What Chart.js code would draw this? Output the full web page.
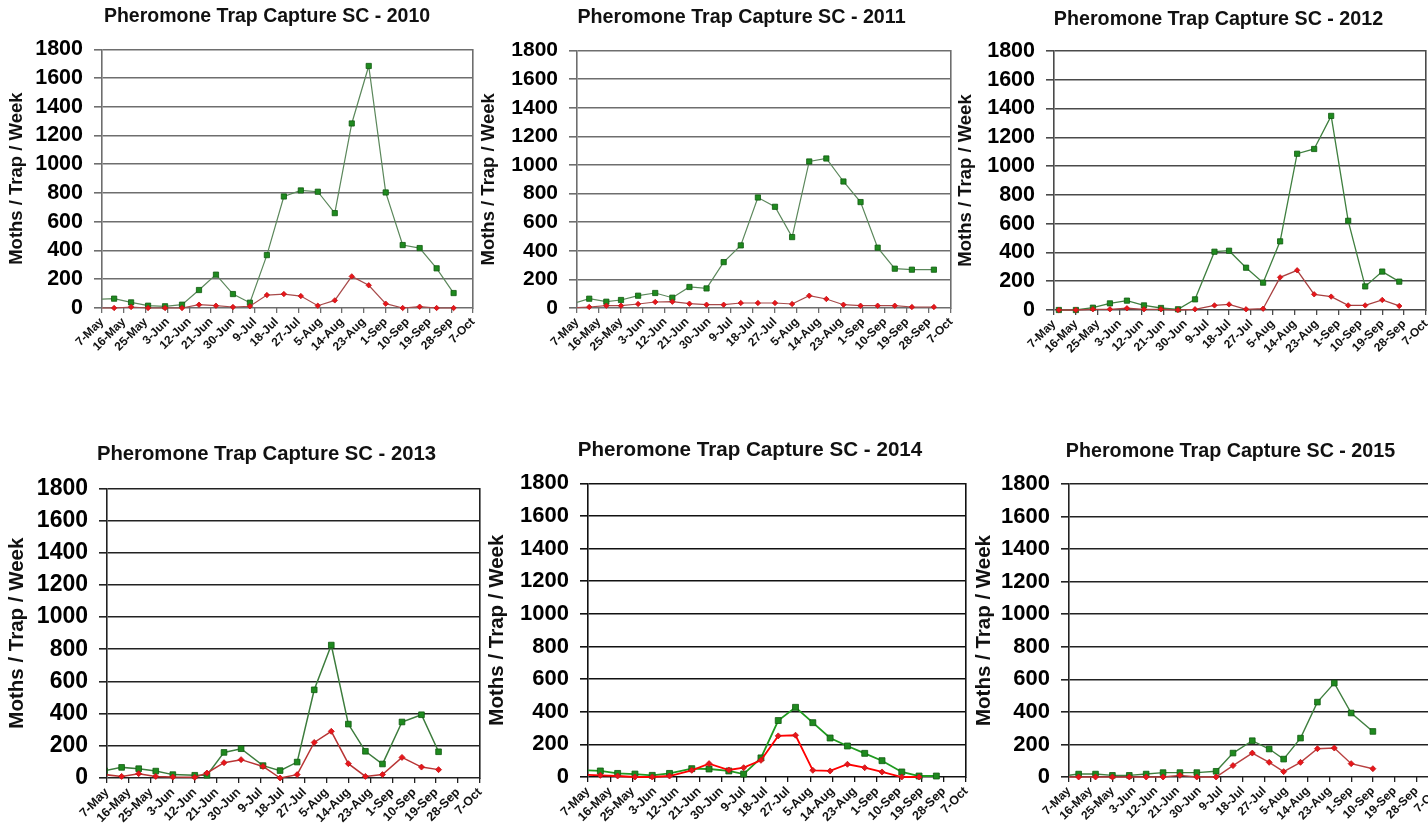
<!DOCTYPE html>
<html><head><meta charset="utf-8">
<script src="https://cdn.jsdelivr.net/npm/chart.js@4.4.1/dist/chart.umd.min.js"></script>
<style>
html,body{margin:0;padding:0;background:#fff;overflow:hidden;}
#wrap{position:relative;width:1428px;height:836px;overflow:hidden;background:#fff;}
canvas{position:absolute;}
</style></head><body><div id="wrap"></div>
<script>
// ---------- data ----------
const tickLabels = ['7-May','16-May','25-May','3-Jun','12-Jun','21-Jun','30-Jun','9-Jul','18-Jul','27-Jul','5-Aug','14-Aug','23-Aug','1-Sep','10-Sep','19-Sep','28-Sep','7-Oct'];
const tickStepDays = 9;          // axis: 7-May (day 0) .. 7-Oct (day 153)
const yMax = 1800, yStep = 200;
const titlePrefix = 'Pheromone Trap Capture SC - ';
const yAxisTitle = 'Moths / Trap / Week';
const years = ['2010','2011','2012','2013','2014','2015'];

// trap dates as day offsets from 7-May (first entries before 0 lie left of the axis)
const days2010  = [-2, 5, 12, 19, 26, 33, 40, 47, 54, 61, 68, 75, 82, 89, 96, 103, 110, 117, 124, 131, 138, 145];
const green2010 = [60, 65, 39, 16, 12, 23, 125, 232, 97, 37, 368, 776, 818, 809, 660, 1284, 1684, 804, 438, 417, 276, 104];
const red2010   = [0, 0, 7, 0, 0, 0, 23, 16, 7, 12, 90, 97, 83, 16, 53, 220, 158, 30, 0, 9, 0, 0];

const days2011  = [-2, 5, 12, 18, 25, 32, 39, 46, 53, 60, 67, 74, 81, 88, 95, 102, 109, 116, 123, 130, 137, 146];
const green2011 = [30, 65, 44, 56, 86, 105, 72, 147, 137, 321, 438, 773, 708, 496, 1025, 1046, 885, 741, 422, 275, 268, 268];
const red2011   = [0, 7, 16, 16, 28, 42, 44, 30, 23, 23, 35, 35, 35, 28, 86, 63, 23, 16, 16, 16, 7, 7];

const days2012  = [2, 9, 16, 23, 30, 37, 44, 51, 58, 66, 72, 79, 86, 93, 100, 107, 114, 121, 128, 135, 142];
const green2012 = [0, 0, 16, 46, 65, 32, 14, 5, 74, 405, 412, 294, 190, 477, 1086, 1119, 1349, 620, 164, 267, 197];
const red2012   = [0, 0, 5, 5, 12, 5, 5, 0, 5, 32, 39, 5, 9, 227, 276, 109, 93, 32, 32, 70, 28];

const days2013  = [-1, 6, 13, 20, 27, 36, 41, 48, 55, 64, 71, 78, 85, 92, 99, 106, 113, 121, 129, 136];
const green2013 = [45, 66, 58, 43, 21, 17, 17, 159, 182, 77, 46, 99, 548, 826, 335, 166, 87, 348, 393, 163];
const red2013   = [21, 10, 27, 10, 6, 4, 31, 95, 114, 72, 0, 21, 221, 290, 89, 10, 21, 128, 68, 52];

const days2014  = [-2, 5, 12, 19, 26, 33, 42, 49, 57, 63, 70, 77, 84, 91, 98, 105, 112, 119, 127, 134, 141];
const green2014 = [42, 37, 22, 18, 10, 22, 51, 49, 37, 18, 117, 346, 427, 333, 239, 190, 145, 100, 31, 6, 6];
const red2014   = [15, 10, 6, 0, 0, 6, 41, 82, 43, 57, 102, 252, 256, 41, 37, 78, 57, 31, 0, 0];

const days2015  = [-3, 4, 11, 18, 25, 32, 39, 46, 53, 61, 68, 76, 83, 89, 96, 103, 110, 117, 126];
const green2015 = [5, 18, 18, 10, 10, 18, 27, 27, 27, 35, 147, 223, 172, 110, 239, 460, 577, 393, 280];
const red2015   = [0, 0, 0, 0, 0, 0, 0, 10, 0, 0, 70, 147, 90, 33, 90, 174, 178, 82, 51];

const seriesByYear = {
  '2010': [days2010, green2010, red2010],
  '2011': [days2011, green2011, red2011],
  '2012': [days2012, green2012, red2012],
  '2013': [days2013, green2013, red2013],
  '2014': [days2014, green2014, red2014],
  '2015': [days2015, green2015, red2015]
};

// ---------- layout / style (not data) ----------
const layoutByYear = {
  '2010': {plotL:102, plotR:473, plotT:49.3, plotB:308,   titleCX:267,   titleCY:17,    yTitleCX:17.5, ct:0},
  '2011': {plotL:577, plotR:951, plotT:50.7, plotB:308.3, titleCX:741.5, titleCY:18,    yTitleCX:489,  ct:0},
  '2012': {plotL:1054,plotR:1426,plotT:51,   plotB:310,   titleCX:1218.5,titleCY:19.2,  yTitleCX:966,  ct:0},
  '2013': {plotL:107, plotR:480, plotT:488.3,plotB:778.3, titleCX:266.7, titleCY:454.7, yTitleCX:17.5, ct:425},
  '2014': {plotL:588, plotR:966, plotT:483.3,plotB:776.7, titleCX:750,   titleCY:450,   yTitleCX:497.5,ct:425},
  '2015': {plotL:1069,plotR:1438,plotT:484,  plotB:777.3, titleCX:1230.5,titleCY:451.5, yTitleCX:984,  ct:425}
};
const styleByYear = {
  '2010': {titleSize:19.5, yTitleSize:18.5, tickSize:21.5, xTickSize:12, grid:'#6e6e6e', gLine:'#5b875b', rLine:'#a84a4a', lw:1.2, gR:3.7, rR:2.7},
  '2011': {titleSize:19.7, yTitleSize:18.5, tickSize:21, xTickSize:12, grid:'#6e6e6e', gLine:'#5b875b', rLine:'#a84a4a', lw:1.2, gR:3.7, rR:2.7},
  '2012': {titleSize:19.7, yTitleSize:18.5, tickSize:21.5, xTickSize:12, grid:'#4a4a4a', gLine:'#3f7f3f', rLine:'#a84040', lw:1.3, gR:3.7, rR:2.7},
  '2013': {titleSize:20.3, yTitleSize:20.5, tickSize:23, xTickSize:12.5, grid:'#222222', gLine:'#3c7c3c', rLine:'#b83434', lw:1.5, gR:4, rR:3},
  '2014': {titleSize:20.6, yTitleSize:20.5, tickSize:22, xTickSize:12.5, grid:'#111111', gLine:'#1f9a1f', rLine:'#ff0000', lw:1.8, gR:4.2, rR:3},
  '2015': {titleSize:19.7, yTitleSize:20.5, tickSize:22, xTickSize:12, grid:'#222222', gLine:'#3f7f3f', rLine:'#b84040', lw:1.4, gR:4, rR:3}
};

Chart.defaults.font.family = '"Liberation Sans", Arial, sans-serif';
Chart.defaults.color = '#000';
const wrap = document.getElementById('wrap');
const X_AXIS_H = 60;

years.forEach(year => {
  const L = layoutByYear[year], S = styleByYear[year];
  const [days, green, red] = seriesByYear[year];
  const cl = Math.round(L.yTitleCX - 0.6 * S.yTitleSize);
  const cw = Math.round(2 * (L.titleCX - cl));
  const ch = Math.round(L.plotB - L.ct + X_AXIS_H);
  const yW = L.plotL - cl;
  const rW = cl + cw - L.plotR;
  const tPadTop = L.titleCY - L.ct - 0.6 * S.titleSize;
  const tPadBot = L.plotT - L.ct - tPadTop - 1.2 * S.titleSize;

  const cv = document.createElement('canvas');
  cv.width = cw; cv.height = ch;
  cv.style.left = cl + 'px'; cv.style.top = L.ct + 'px';
  cv.style.width = cw + 'px'; cv.style.height = ch + 'px';
  wrap.appendChild(cv);

  const clip = {left: 0, top: false, right: false, bottom: false};
  const redPts = days.map((d, i) => ({x: d, y: red[i]})).filter(p => p.y !== undefined);
  const greenPts = days.map((d, i) => ({x: d, y: green[i]})).filter(p => p.y !== undefined);

  new Chart(cv, {
    type: 'line',
    data: {
      datasets: [
        {label: 'red', data: redPts, borderColor: S.rLine, borderWidth: S.lw,
         pointStyle: 'rectRot', pointRadius: S.rR, pointBackgroundColor: '#e8161b',
         pointBorderColor: '#c40f12', pointBorderWidth: 0.8, clip: clip, tension: 0},
        {label: 'green', data: greenPts, borderColor: S.gLine, borderWidth: S.lw,
         pointStyle: 'rect', pointRadius: S.gR, pointBackgroundColor: '#1f8a1f',
         pointBorderColor: '#0f5a0f', pointBorderWidth: 0.8, clip: clip, tension: 0}
      ]
    },
    options: {
      responsive: false, animation: false, devicePixelRatio: 1,
      layout: {padding: 0},
      plugins: {
        legend: {display: false}, tooltip: {enabled: false},
        title: {display: true, text: titlePrefix + year, color: '#111',
                font: {size: S.titleSize, weight: 'bold'},
                padding: {top: tPadTop, bottom: tPadBot}}
      },
      scales: {
        x: {
          type: 'linear', min: 0, max: tickStepDays * (tickLabels.length - 1),
          afterBuildTicks: s => { s.ticks = tickLabels.map((l, i) => ({value: i * tickStepDays})); },
          ticks: {autoSkip: false, minRotation: 45, maxRotation: 45, padding: 2,
                  font: {size: S.xTickSize, weight: 'bold'}, color: '#111',
                  callback: v => tickLabels[Math.round(v / tickStepDays)]},
          grid: {drawOnChartArea: false, tickLength: 5, tickColor: S.grid, lineWidth: 1.3},
          border: {display: false},
          afterFit: s => { s.height = X_AXIS_H; }
        },
        y: {
          min: 0, max: yMax,
          ticks: {stepSize: yStep, autoSkip: false, padding: 11, color: '#000',
                  font: {size: S.tickSize, weight: 'bold', lineHeight: 1},
                  callback: v => String(v)},
          grid: {color: S.grid, lineWidth: 1.6, tickLength: 8, tickColor: S.grid},
          border: {color: S.grid, width: 1.6},
          title: {display: true, text: yAxisTitle, color: '#111', padding: 0,
                  font: {size: S.yTitleSize, weight: 'bold'}},
          afterFit: s => { s.width = yW; }
        },
        yR: {
          position: 'right', min: 0, max: 1,
          ticks: {display: false}, grid: {display: false},
          border: {display: true, color: S.grid, width: 1.6},
          afterFit: s => { s.width = rW; }
        }
      }
    }
  });
});
</script></body></html>
